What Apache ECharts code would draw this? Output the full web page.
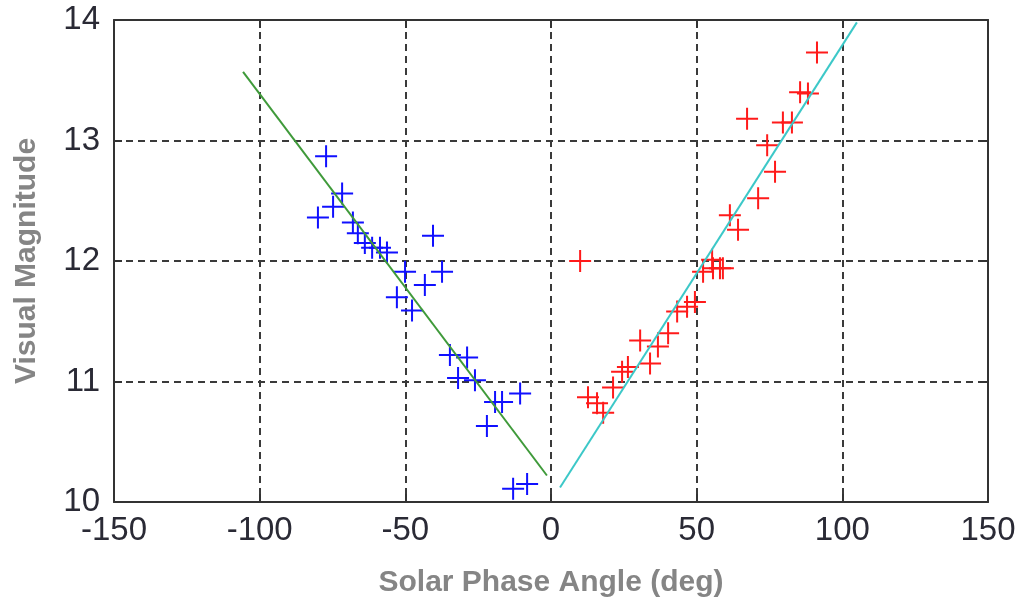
<!DOCTYPE html>
<html><head><meta charset="utf-8">
<script src="https://cdn.jsdelivr.net/npm/echarts@6/dist/echarts.min.js"></script>
<style>html,body{margin:0;padding:0;background:#fff}#c{width:1024px;height:610px}</style>
</head><body><div id="c"></div>
<script>
// Blue crosses (negative phase angle): [angle, magnitude]
const bluePoints = [
  [-77.2,12.87],[-71.7,12.56],[-74.8,12.45],[-80.0,12.36],[-68.0,12.32],[-66.3,12.23],
  [-63.9,12.15],[-61.4,12.11],[-58.7,12.11],[-56.3,12.07],[-50.1,11.91],[-43.3,11.80],
  [-37.4,11.91],[-40.5,12.21],[-52.9,11.70],[-47.7,11.59],[-34.7,11.22],[-28.8,11.20],
  [-31.9,11.03],[-26.1,11.01],[-19.2,10.83],[-16.8,10.83],[-10.6,10.90],[-22.0,10.63],
  [-13.0,10.11],[-8.2,10.15]
];
// Red crosses (positive phase angle)
const redPoints = [
  [10.0,12.00],[12.7,10.87],[15.8,10.82],[17.9,10.74],[21.3,10.95],[24.4,11.08],[26.4,11.12],
  [30.6,11.34],[34.0,11.15],[36.7,11.29],[40.2,11.40],[43.3,11.58],[46.7,11.62],[49.4,11.66],
  [52.2,11.91],[55.6,11.94],[59.0,11.94],[91.3,13.73],[85.5,13.40],[88.2,13.39],[67.3,13.18],
  [79.6,13.15],[82.7,13.15],[74.2,12.96],[76.9,12.74],[71.1,12.52],[61.4,12.38],[64.2,12.26],
  [55.3,12.01],[58.0,11.94]
];
// Fitted lines
const greenFit = [[-105.7,13.57],[-1.4,10.22]];
const cyanFit = [[3.1,10.12],[105.0,13.98]];
const xTicks = {min:-150, max:150, interval:50};
const yTicks = {min:10, max:14, interval:1};

const plus = 'path://M-1,-11H1V11H-1Z M-11,-1H11V1H-11Z';
const chart = echarts.init(document.getElementById('c'), null, {renderer:'canvas'});
const labelFont = {fontFamily:'Liberation Sans, Arial, sans-serif', fontSize:33, color:'#2a2a35'};
const nameFont = {fontFamily:'Liberation Sans, Arial, sans-serif', fontSize:30, fontWeight:'bold', color:'#858585'};
const axisLine = {show:true, onZero:false, lineStyle:{color:'#333', width:2}};
const tick = {show:true, inside:true, length:8, lineStyle:{color:'#333', width:2}};
const split = {show:true, lineStyle:{color:'#3a3a3a', width:2, type:[7,5]}};
chart.setOption({
  animation:false,
  backgroundColor:'#fff',
  grid:{left:114, right:36, top:20, bottom:108},
  xAxis:[{
    type:'value', min:xTicks.min, max:xTicks.max, interval:xTicks.interval,
    axisLine:axisLine, axisTick:tick,
    axisLabel:Object.assign({margin:12}, labelFont),
    splitLine:split,
    name:'Solar Phase Angle (deg)', nameLocation:'middle', nameGap:66, nameTextStyle:nameFont
  },{
    type:'value', position:'top', min:xTicks.min, max:xTicks.max, interval:xTicks.interval,
    axisLine:axisLine, axisTick:tick,
    axisLabel:{show:false}, splitLine:{show:false}
  }],
  yAxis:[{
    type:'value', min:yTicks.min, max:yTicks.max, interval:yTicks.interval,
    axisLine:axisLine, axisTick:tick,
    axisLabel:Object.assign({margin:14}, labelFont),
    splitLine:split,
    name:'Visual Magnitude', nameLocation:'middle', nameGap:72, nameTextStyle:nameFont
  },{
    type:'value', position:'right', min:yTicks.min, max:yTicks.max, interval:yTicks.interval,
    axisLine:axisLine, axisTick:tick,
    axisLabel:{show:false}, splitLine:{show:false}
  }],
  series:[
    {type:'scatter', data:bluePoints, symbol:plus, symbolSize:22, itemStyle:{color:'#1010ff', opacity:1}, z:3},
    {type:'scatter', data:redPoints, symbol:plus, symbolSize:22, itemStyle:{color:'#ff1a1a', opacity:1}, z:3},
    {type:'line', data:greenFit, showSymbol:false, symbol:'none', lineStyle:{color:'#3f9a3a', width:2}, z:4, clip:true},
    {type:'line', data:cyanFit, showSymbol:false, symbol:'none', lineStyle:{color:'#3cc8c8', width:2}, z:4, clip:true}
  ]
});
</script></body></html>
